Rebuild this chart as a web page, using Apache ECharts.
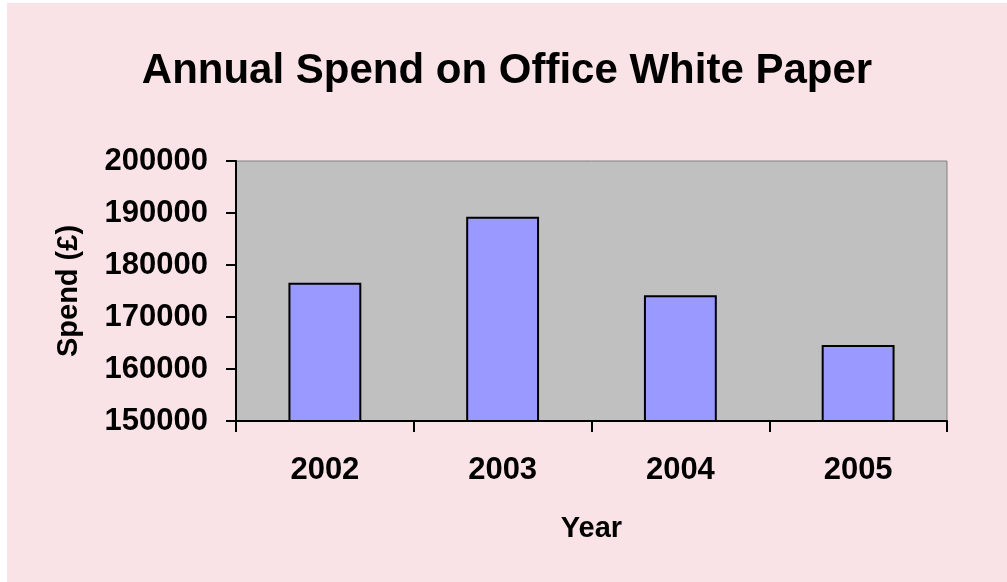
<!DOCTYPE html>
<html>
<head>
<meta charset="utf-8">
<script src="https://cdn.jsdelivr.net/npm/echarts@6/dist/echarts.min.js"></script>
<style>
  html, body { margin: 0; padding: 0; background: #ffffff; }
  #content { position: absolute; left: 7px; top: 3px; width: 1000px; height: 579px; background: #fae3e6; }
</style>
</head>
<body>
<div id="content"></div>
<script>
var years = ['2002', '2003', '2004', '2005'];
var spend = [176600, 189300, 174200, 164600];

var myChart = echarts.init(document.getElementById('content'));

var fontFamily = 'Liberation Sans, Arial, sans-serif';

var option = {
    animation: false,
    backgroundColor: '#fae3e6',
    title: {
        text: 'Annual Spend on Office White Paper',
        left: 'center',
        top: 42,
        textStyle: {
            fontFamily: fontFamily,
            fontWeight: 'bold',
            fontSize: 42,
            color: '#000'
        }
    },
    grid: {
        left: 229,
        right: 60,
        top: 158,
        bottom: 161,
        show: true,
        backgroundColor: '#c0c0c0',
        borderColor: '#808080',
        borderWidth: 1
    },
    xAxis: {
        type: 'category',
        data: years,
        name: 'Year',
        nameLocation: 'middle',
        nameGap: 93,
        nameTextStyle: {
            fontFamily: fontFamily,
            fontWeight: 'bold',
            fontSize: 29,
            color: '#000'
        },
        axisLine: { lineStyle: { color: '#000', width: 2 } },
        axisTick: { show: true, length: 11, lineStyle: { color: '#000', width: 2 } },
        axisLabel: {
            fontFamily: fontFamily,
            fontWeight: 'bold',
            fontSize: 31,
            color: '#000',
            margin: 34
        }
    },
    yAxis: {
        type: 'value',
        min: 150000,
        max: 200000,
        interval: 10000,
        name: 'Spend (£)',
        nameLocation: 'middle',
        nameGap: 153,
        nameRotate: 90,
        nameTextStyle: {
            fontFamily: fontFamily,
            fontWeight: 'bold',
            fontSize: 29,
            color: '#000'
        },
        axisLine: { show: true, lineStyle: { color: '#000', width: 2 } },
        axisTick: { show: true, length: 10, lineStyle: { color: '#000', width: 2 } },
        splitLine: { show: false },
        axisLabel: {
            fontFamily: fontFamily,
            fontWeight: 'bold',
            fontSize: 31,
            color: '#000',
            margin: 28,
            formatter: function (v) { return String(v); }
        }
    },
    series: [
        {
            type: 'bar',
            data: spend,
            barWidth: '41%',
            itemStyle: {
                color: '#9999ff',
                borderColor: '#000',
                borderWidth: 2
            }
        }
    ]
};
myChart.setOption(option);
</script>
</body>
</html>
